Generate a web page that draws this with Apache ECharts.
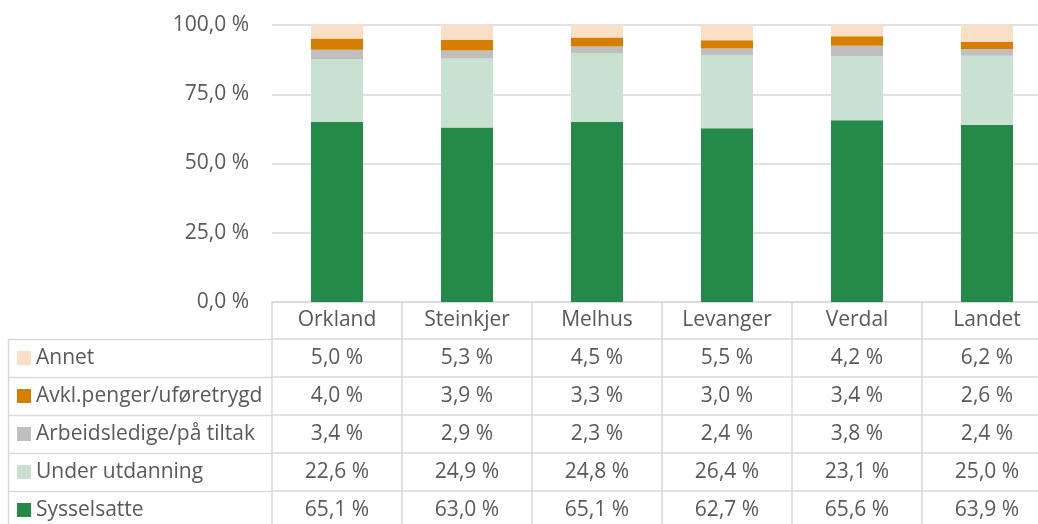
<!DOCTYPE html>
<html>
<head>
    <meta charset="utf-8">
    <title>Sysselsetting</title>
    <script src="https://cdn.jsdelivr.net/npm/echarts@6/dist/echarts.min.js"></script>
    <style>
        html, body { margin: 0; padding: 0; background: #fff; }
    </style>
</head>
<body>
    <div id="main" style="width: 1038px;height:524px;"></div>
    <script type="text/javascript">
        // kategorier og verdier (prosent)
        var steder = ["Orkland", "Steinkjer", "Melhus", "Levanger", "Verdal", "Landet"];
        var sysselsatte = [65.1, 63.0, 65.1, 62.7, 65.6, 63.9];
        var underUtdanning = [22.6, 24.9, 24.8, 26.4, 23.1, 25.0];
        var arbeidsledige = [3.4, 2.9, 2.3, 2.4, 3.8, 2.4];
        var avklPenger = [4.0, 3.9, 3.3, 3.0, 3.4, 2.6];
        var annet = [5.0, 5.3, 4.5, 5.5, 4.2, 6.2];
        var yTicks = [0, 25, 50, 75, 100];

        var tekst = '#595959';
        var linje = '#d9d9d9';
        var font = 'Open Sans';
        var fs = 21;

        // rekkefølge i tabellen (øverst først)
        var rader = [
            { name: 'Annet', data: annet, color: '#f8dfc5' },
            { name: 'Avkl.penger/uføretrygd', data: avklPenger, color: '#d67e00' },
            { name: 'Arbeidsledige/på tiltak', data: arbeidsledige, color: '#bfbfbf' },
            { name: 'Under utdanning', data: underUtdanning, color: '#c9e2d0' },
            { name: 'Sysselsatte', data: sysselsatte, color: '#238a4a' }
        ];

        function pst(v) {
            return v.toFixed(1).replace('.', ',') + ' %';
        }

        var gridTop = 25, gridBottomY = 302, headerH = 37, radH = 38;

        var xAxes = [{
            type: 'category',
            data: steder,
            position: 'bottom',
            axisLine: { show: true, lineStyle: { color: linje, width: 1.5 } },
            axisTick: { show: true, length: 240, lineStyle: { color: linje, width: 1.5 } },
            axisLabel: {
                color: tekst, fontFamily: font, fontSize: fs,
                margin: headerH / 2, verticalAlign: 'middle'
            }
        }];
        var legends = [];
        rader.forEach(function (r, i) {
            xAxes.push({
                type: 'category',
                data: steder,
                position: 'bottom',
                offset: headerH + radH * i,
                axisLine: { show: true, lineStyle: { color: linje, width: 1.5 } },
                axisTick: { show: false },
                axisLabel: {
                    color: tekst, fontFamily: font, fontSize: fs,
                    margin: radH / 2, verticalAlign: 'middle',
                    formatter: (function (d) {
                        return function (val, idx) { return pst(d[idx]); };
                    })(r.data)
                }
            });
            var midt = gridBottomY + headerH + radH * i + radH / 2;
            legends.push({
                data: [r.name],
                left: 17,
                top: midt - 11,
                padding: 0,
                icon: 'rect',
                itemWidth: 14,
                itemHeight: 14,
                selectedMode: false,
                textStyle: { color: tekst, fontFamily: font, fontSize: fs, lineHeight: 22 }
            });
        });

        // venstre del av tabellen (kolonnen med forklaringer)
        var graphics = [{
            type: 'line',
            shape: { x1: 8.5, y1: gridBottomY + headerH, x2: 8.5, y2: 540 },
            style: { stroke: linje, lineWidth: 1.5 }
        }];
        for (var k = 0; k < rader.length; k++) {
            var y = gridBottomY + headerH + radH * k + 0.5;
            graphics.push({
                type: 'line',
                shape: { x1: 8, y1: y, x2: 272, y2: y },
                style: { stroke: linje, lineWidth: 1.5 }
            });
        }

        var series = rader.slice().reverse().map(function (r) {
            return {
                name: r.name,
                type: 'bar',
                stack: 'total',
                barWidth: 52,
                data: r.data,
                itemStyle: { color: r.color },
                emphasis: { disabled: true }
            };
        });

        var myChart = echarts.init(document.getElementById('main'));
        var option = {
            animation: false,
            textStyle: { fontFamily: font },
            legend: legends,
            grid: {
                left: 272, width: 780, top: gridTop, height: gridBottomY - gridTop,
                outerBoundsMode: 'none', containLabel: false
            },
            xAxis: xAxes,
            yAxis: {
                type: 'value',
                min: yTicks[0],
                max: yTicks[yTicks.length - 1],
                interval: 25,
                axisLine: { show: false },
                axisTick: { show: false },
                splitLine: { lineStyle: { color: linje, width: 1.5 } },
                axisLabel: {
                    color: tekst, fontFamily: font, fontSize: fs, margin: 23,
                    formatter: function (v) { return pst(v); }
                }
            },
            graphic: graphics,
            series: series
        };
        myChart.setOption(option);
    </script>
</body>
</html>
